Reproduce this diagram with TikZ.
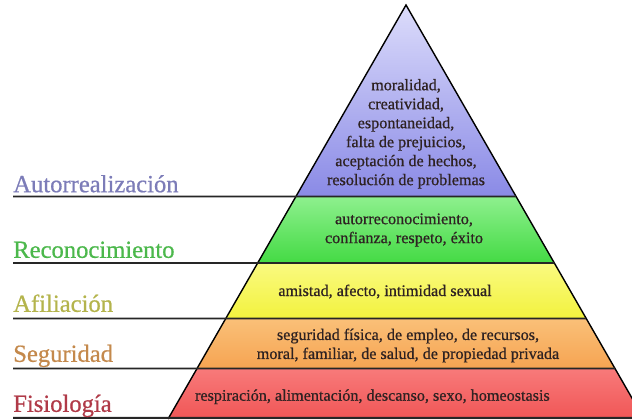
\documentclass[tikz,border=0pt]{standalone}
\usepackage{fontspec}
\setmainfont{Liberation Serif}
\newfontfamily\heavyfont[FakeBold=0.7]{Liberation Serif}
\usetikzlibrary{calc}

% band colours (top / bottom of each band)
\definecolor{purpleTop}{HTML}{DCDCFB}
\definecolor{purpleBot}{HTML}{8A8AE6}
\definecolor{greenTop}{HTML}{8EF08E}
\definecolor{greenBot}{HTML}{44DA44}
\definecolor{yellowTop}{HTML}{FAFA80}
\definecolor{yellowBot}{HTML}{F2F23E}
\definecolor{orangeTop}{HTML}{FAC078}
\definecolor{orangeBot}{HTML}{F6A452}
\definecolor{redTop}{HTML}{F87A7A}
\definecolor{redBot}{HTML}{F05656}
% label colours
\definecolor{autoCol}{HTML}{7C7CB8}
\definecolor{recoCol}{HTML}{4CB84C}
\definecolor{afilCol}{HTML}{B4B44C}
\definecolor{seguCol}{HTML}{C4894C}
\definecolor{fisiCol}{HTML}{B03A48}
\definecolor{inkCol}{HTML}{2E2222}

\def\ay{10.35}   % apex height
\def\lx{0.325}   % start of the label lines
\def\lab{\heavyfont\fontsize{17.5}{20}\selectfont}
\def\txt{\heavyfont\fontsize{11.5}{13.5}\selectfont}

\tikzset{
  level/.style={anchor=base west, inner sep=0pt, font=\lab},
  band/.style={align=center, inner sep=0pt, font=\txt, text=inkCol},
  sep/.style={line width=1.4pt, black!85}
}

\begin{document}
\begin{tikzpicture}

\useasboundingbox (0,0) rectangle (15.8,10.475);
\clip (0,0) rectangle (15.8,10.475);

\coordinate (A) at (10.15,\ay);  % apex
\coordinate (BL) at (4.2,0);
\coordinate (BR) at (16.1,0);

% Bands
\foreach \lo/\hi/\c in {0/1.2625/red,1.2625/2.5125/orange,2.5125/3.9/yellow,3.9/5.5625/green,5.5625/10.35/purple} {
    \shade[top color=\c Top, bottom color=\c Bot]
      ($(BL)!{\lo/\ay}!(A)$) -- ($(BR)!{\lo/\ay}!(A)$) -- ($(BR)!{\hi/\ay}!(A)$) -- ($(BL)!{\hi/\ay}!(A)$) -- cycle;
}

% Outline
\draw[line width=1pt] (BL) -- (A) -- (BR);

% Level lines
\foreach \y in {0.03,1.2625,2.5125,3.9,5.5625} {
    \draw[sep] (\lx,\y) -- ($(BR)!{\y/\ay}!(A)$);
}

% Level names
\node[level, text=autoCol] (lAuto) at (\lx,5.67) {Autorrealización};
\node[level, text=recoCol] (lReco) at (\lx,4.03) {Reconocimiento};
\node[level, text=afilCol] (lAfil) at (\lx,2.68) {Afiliación};
\node[level, text=seguCol] (lSegu) at (\lx,1.43) {Seguridad};
\node[level, text=fisiCol] (lFisi) at (\lx,0.18) {Fisiología};

% Needs
\node[band] (tAuto) at (10.15,7.13) {moralidad,\\creatividad,\\espontaneidad,\\falta de prejuicios,\\aceptación de hechos,\\resolución de problemas};
\node[band] (tReco) at (10.1,4.725) {autorreconocimiento,\\confianza, respeto, éxito};
\node[band, anchor=base] (tAfil) at (9.625,3.075) {amistad, afecto, intimidad sexual};
\node[band] (tSegu) at (10.2,1.8375) {seguridad física, de empleo, de recursos,\\moral, familiar, de salud, de propiedad privada};
\node[band, anchor=base] (tFisi) at (9.31,0.457) {respiración, alimentación, descanso, sexo, homeostasis};

\end{tikzpicture}
\end{document}
